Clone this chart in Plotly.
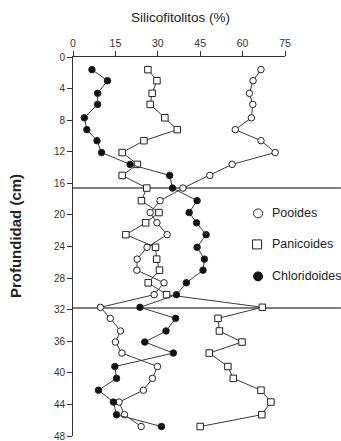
import plotly.graph_objects as go

# Data
depth = [1.6, 3.0, 4.6, 6.0, 7.7, 9.2, 10.6, 12.1, 13.6, 15.0, 16.6, 18.2, 19.7, 21.0,
         22.5, 24.1, 25.6, 27.0, 28.6, 30.1, 31.7, 33.1, 34.7, 36.1, 37.5, 39.2, 40.7,
         42.2, 43.7, 45.3, 46.8]
pooides = [66.5, 63.7, 62.4, 63.6, 63.1, 57.4, 66.5, 71.5, 56.3, 48.4, 38.9, 30.8, 27.3,
           29.7, 33.3, 26.2, 22.7, 22.6, 32.2, 28.7, 9.7, 13.2, 16.8, 15.0, 17.3, 29.9,
           28.1, 24.9, 16.3, 18.2, 24.1]
panicoides = [26.5, 29.7, 28.0, 27.3, 32.5, 36.9, 25.1, 17.4, 22.8, 17.4, 26.1, 24.2, 30.4,
              25.7, 18.7, 29.2, 29.6, 30.6, 26.6, 33.1, 67.0, 51.3, 51.8, 59.8, 48.2, 54.8,
              56.7, 66.5, 70.0, 66.8, 45.0]
chloridoides = [6.7, 12.2, 8.7, 8.7, 4.0, 4.9, 8.5, 10.1, 20.2, 34.2, 35.2, 43.9, 41.1,
                43.7, 47.1, 43.9, 46.5, 46.0, 40.1, 36.6, 23.7, 36.3, 32.9, 25.4, 35.5,
                14.8, 15.4, 9.0, 14.3, 15.4, 31.3]
boundaries = [16.6, 31.8]
x_ticks = [0, 15, 30, 45, 60, 75]
y_ticks = list(range(0, 49, 4))
legend_names = ["Pooides", "Panicoides", "Chloridoides"]

W, H = 341, 441
L, R, T, B = 72.5, 56, 56.5, 5.3
pw, ph = W - L - R, H - T - B

def px(x):
    return (x - L) / pw

def py(y):
    return (H - B - y) / ph

FONT = "Liberation Sans, Arial, sans-serif"
LINE = "#3a3a3a"

fig = go.Figure()
series = [
    (pooides, "circle", "white"),
    (panicoides, "square", "white"),
    (chloridoides, "circle", "#111"),
]
for vals, sym, fill in series:
    fig.add_trace(go.Scatter(
        x=vals, y=depth, mode="lines+markers",
        line=dict(color=LINE, width=1),
        marker=dict(symbol=sym, size=6.5, color=fill,
                    line=dict(color="#222", width=1)),
        showlegend=False, cliponaxis=False,
    ))

shapes = []
for b in boundaries:
    shapes.append(dict(type="line", xref="paper", yref="y", x0=0, x1=px(W), y0=b, y1=b,
                       line=dict(color="#555", width=1.5), layer="below"))

# legend glyphs
leg_y = [213, 244, 276]
shapes.append(dict(type="circle", xref="paper", yref="paper", xsizemode="pixel", ysizemode="pixel",
                   xanchor=px(258), yanchor=py(leg_y[0]), x0=-4.5, x1=4.5, y0=-4.5, y1=4.5,
                   line=dict(color="#222", width=1), fillcolor="white"))
shapes.append(dict(type="rect", xref="paper", yref="paper", xsizemode="pixel", ysizemode="pixel",
                   xanchor=px(257), yanchor=py(leg_y[1]), x0=-4.5, x1=4.5, y0=-4.5, y1=4.5,
                   line=dict(color="#222", width=1), fillcolor="white"))
shapes.append(dict(type="circle", xref="paper", yref="paper", xsizemode="pixel", ysizemode="pixel",
                   xanchor=px(258), yanchor=py(leg_y[2]), x0=-4.5, x1=4.5, y0=-4.5, y1=4.5,
                   line=dict(color="#111", width=1), fillcolor="#111"))

annotations = [
    dict(text="Silicofitolitos (%)", xref="paper", yref="paper", x=px(180), y=py(17),
         xanchor="center", yanchor="middle",
         showarrow=False, font=dict(size=13.5, color="#222", family=FONT)),
    dict(text="<b>Profundidad (cm)</b>", xref="paper", yref="paper", x=px(15), y=py(236),
         xanchor="center", yanchor="middle",
         textangle=-90, showarrow=False, font=dict(size=15, color="#222", family=FONT)),
]
for name, yy in zip(legend_names, leg_y):
    annotations.append(dict(text=name, xref="paper", yref="paper", x=px(270), y=py(yy),
                            xanchor="left", yanchor="middle", showarrow=False,
                            font=dict(size=12.5, color="#222", family=FONT)))

fig.update_layout(
    width=W, height=H,
    margin=dict(l=L, r=R, t=T, b=B, pad=0, autoexpand=False),
    paper_bgcolor="white", plot_bgcolor="white",
    shapes=shapes, annotations=annotations,
    xaxis=dict(range=[0, 75], side="top", tickvals=x_ticks, showgrid=False, zeroline=False,
               showline=True, linecolor="#333", linewidth=1, ticks="outside", ticklen=5,
               tickcolor="#333", ticklabeloverflow="allow", automargin=False,
               tickfont=dict(size=10.5, color="#333", family=FONT)),
    yaxis=dict(range=[48, 0], tickvals=y_ticks, showgrid=False, zeroline=False,
               showline=True, linecolor="#333", linewidth=1, ticks="outside", ticklen=5,
               tickcolor="#333", ticklabeloverflow="allow", automargin=False,
               tickfont=dict(size=10, color="#333", family=FONT)),
)

fig.write_html("out.html")
